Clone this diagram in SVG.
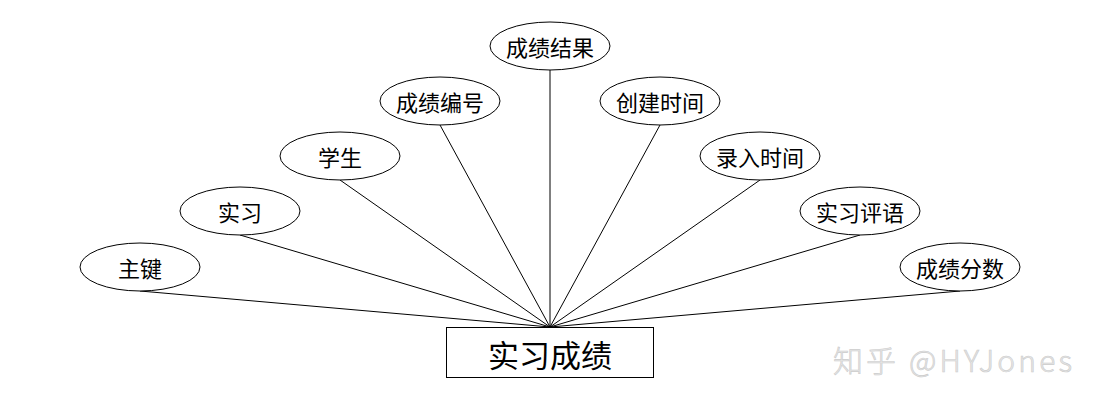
<svg xmlns="http://www.w3.org/2000/svg" width="1100" height="408" viewBox="0 0 1100 408">
<style>
.n ellipse{fill:#fff;stroke:#000;stroke-width:1}
.n text{font-family:"Noto Sans CJK SC",sans-serif;font-size:22px;fill:#000;text-anchor:middle;dominant-baseline:central}
#links line{stroke:#000;stroke-width:1}
.wm{font-family:"Noto Sans CJK SC",sans-serif;font-size:30px;font-weight:300;fill:#e6e6e6;stroke:#cccccc;stroke-width:0.6}
</style>
<rect width="1100" height="408" fill="#fff"/>
<g id="links">
<line x1="140" y1="291" x2="550" y2="327"/>
<line x1="240" y1="235" x2="550" y2="327"/>
<line x1="340" y1="180" x2="550" y2="327"/>
<line x1="440" y1="125" x2="550" y2="327"/>
<line x1="550" y1="70" x2="550" y2="327"/>
<line x1="660" y1="125" x2="550" y2="327"/>
<line x1="760" y1="180" x2="550" y2="327"/>
<line x1="860" y1="235" x2="550" y2="327"/>
<line x1="960" y1="291" x2="550" y2="327"/>
</g>
<g id="n1" class="n"><ellipse cx="140" cy="267" rx="60" ry="24"/><text x="140" y="267">主键</text></g>
<g id="n2" class="n"><ellipse cx="240" cy="211" rx="60" ry="24"/><text x="240" y="211">实习</text></g>
<g id="n3" class="n"><ellipse cx="340" cy="156" rx="60" ry="24"/><text x="340" y="156">学生</text></g>
<g id="n4" class="n"><ellipse cx="440" cy="101" rx="60" ry="24"/><text x="440" y="101">成绩编号</text></g>
<g id="n5" class="n"><ellipse cx="550" cy="46" rx="60" ry="24"/><text x="550" y="46">成绩结果</text></g>
<g id="n6" class="n"><ellipse cx="660" cy="101" rx="60" ry="24"/><text x="660" y="101">创建时间</text></g>
<g id="n7" class="n"><ellipse cx="760" cy="156" rx="60" ry="24"/><text x="760" y="156">录入时间</text></g>
<g id="n8" class="n"><ellipse cx="860" cy="211" rx="60" ry="24"/><text x="860" y="211">实习评语</text></g>
<g id="n9" class="n"><ellipse cx="960" cy="267" rx="60" ry="24"/><text x="960" y="267">成绩分数</text></g>
<g id="main"><rect x="446.5" y="327.5" width="207" height="50" fill="#fff" stroke="#000" stroke-width="1"/><text x="550" y="353" font-family="Noto Sans CJK SC,sans-serif" font-size="31" text-anchor="middle" dominant-baseline="central">实习成绩</text></g>
<text class="wm" x="833" y="372" textLength="239" lengthAdjust="spacing">知乎 @HYJones</text>
</svg>
